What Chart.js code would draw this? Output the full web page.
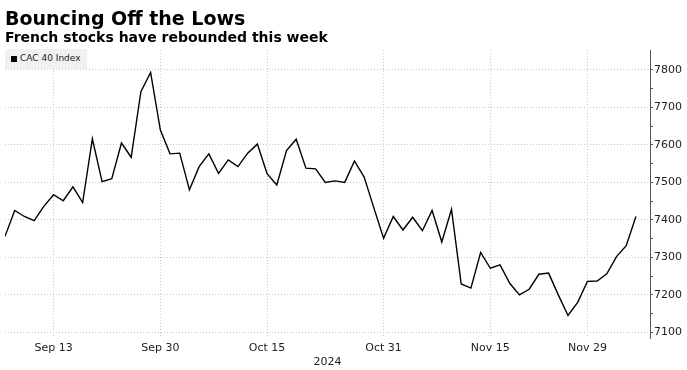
<!DOCTYPE html>
<html lang="en">
<head>
    <meta charset="UTF-8">
    <title>Bouncing Off the Lows</title>
    <script src="https://cdn.jsdelivr.net/npm/chart.js"></script>
    <style>
        body {
            margin: 0;
            background: #fff;
            font-family: "DejaVu Sans", sans-serif;
        }
        .wrap {
            position: relative;
            width: 687px;
            height: 370px;
        }
        .title {
            position: absolute;
            left: 5px;
            top: 7px;
            font-size: 19px;
            font-weight: bold;
            color: #000;
            white-space: nowrap;
        }
        .subtitle {
            position: absolute;
            left: 5px;
            top: 29px;
            font-size: 14px;
            font-weight: bold;
            color: #000;
            white-space: nowrap;
        }
        .legend {
            position: absolute;
            left: 5px;
            top: 49px;
            width: 82px;
            height: 20px;
            background: #f0f0f0;
            font-size: 9px;
            color: #222;
            z-index: 2;
        }
        .legend span.box {
            position: absolute;
            left: 6px;
            top: 7px;
            width: 6px;
            height: 6px;
            background: #000;
        }
        .legend span.txt {
            position: absolute;
            left: 15px;
            top: 4px;
            white-space: nowrap;
        }
        canvas {
            position: absolute;
            left: 0;
            top: 0;
        }
    </style>
</head>
<body>
<div class="wrap">
    <canvas id="chart" width="687" height="370"></canvas>
    <div class="title">Bouncing Off the Lows</div>
    <div class="subtitle">French stocks have rebounded this week</div>
    <div class="legend"><span class="box"></span><span class="txt">CAC 40 Index</span></div>
</div>
<script>
    // trading days, Sep 6 - Dec 6 2024
    const dates = [
        'Sep 6', 'Sep 9', 'Sep 10', 'Sep 11', 'Sep 12', 'Sep 13', 'Sep 16', 'Sep 17', 'Sep 18', 'Sep 19',
        'Sep 20', 'Sep 23', 'Sep 24', 'Sep 25', 'Sep 26', 'Sep 27', 'Sep 30',
        'Oct 1', 'Oct 2', 'Oct 3', 'Oct 4', 'Oct 7', 'Oct 8', 'Oct 9', 'Oct 10', 'Oct 11', 'Oct 14',
        'Oct 15', 'Oct 16', 'Oct 17', 'Oct 18', 'Oct 21', 'Oct 22', 'Oct 23', 'Oct 24', 'Oct 25',
        'Oct 28', 'Oct 29', 'Oct 30', 'Oct 31',
        'Nov 1', 'Nov 4', 'Nov 5', 'Nov 6', 'Nov 7', 'Nov 8', 'Nov 11', 'Nov 12', 'Nov 13', 'Nov 14',
        'Nov 15', 'Nov 18', 'Nov 19', 'Nov 20', 'Nov 21', 'Nov 22', 'Nov 25', 'Nov 26', 'Nov 27',
        'Nov 28', 'Nov 29',
        'Dec 2', 'Dec 3', 'Dec 4', 'Dec 5', 'Dec 6'
    ];

    const cac40 = [
        7356, 7425, 7409, 7398, 7436, 7467, 7451, 7488, 7446, 7616,
        7502, 7510, 7605, 7567, 7742, 7793, 7640,
        7576, 7578, 7480, 7542, 7576, 7524, 7560, 7542, 7578, 7602,
        7523, 7493, 7585, 7615, 7538, 7536, 7500, 7504, 7500,
        7557, 7514, 7432, 7351,
        7409, 7373, 7407, 7371, 7425, 7341, 7428, 7229, 7218, 7313,
        7271, 7280, 7231, 7200, 7215, 7255, 7258, 7200, 7145,
        7180, 7236,
        7237, 7256, 7302, 7331, 7409
    ];

    const xTickLabels = ['Sep 13', 'Sep 30', 'Oct 15', 'Oct 31', 'Nov 15', 'Nov 29'];
    const yTickValues = [7100, 7150, 7200, 7250, 7300, 7350, 7400, 7450, 7500, 7550, 7600, 7650, 7700, 7750, 7800];
    const yMin = 7085;
    const yMax = 7853;
    // axis runs a little past the last session
    const xMax = 66.45;

    const ctx = document.getElementById('chart').getContext('2d');
    const gridGrey = '#c8c8c8';

    const points = cac40.map((v, i) => ({ x: i, y: v }));

    const chart = new Chart(ctx, {
        type: 'line',
        data: {
            datasets: [{
                label: 'CAC 40 Index',
                data: points,
                borderColor: '#000',
                borderWidth: 1.4,
                pointRadius: 0,
                tension: 0,
                fill: false
            }]
        },
        options: {
            responsive: false,
            animation: false,
            layout: {
                padding: { left: 5, right: 4, top: 50, bottom: 1.4 }
            },
            plugins: {
                legend: { display: false },
                tooltip: { enabled: false }
            },
            scales: {
                x: {
                    type: 'linear',
                    min: 0,
                    max: xMax,
                    afterBuildTicks: function(scale) {
                        scale.ticks = xTickLabels.map(l => ({ value: dates.indexOf(l) }));
                    },
                    border: { display: false, dash: [1, 2] },
                    grid: {
                        color: gridGrey,
                        drawTicks: false
                    },
                    ticks: {
                        autoSkip: false,
                        maxRotation: 0,
                        padding: 3.4,
                        color: '#222',
                        font: { family: 'DejaVu Sans', size: 11 },
                        callback: v => dates[v]
                    },
                    title: {
                        display: true,
                        text: '2024',
                        color: '#222',
                        font: { family: 'DejaVu Sans', size: 11 },
                        padding: { top: -2.6, bottom: 0 }
                    }
                },
                y: {
                    position: 'right',
                    min: yMin,
                    max: yMax,
                    afterBuildTicks: function(scale) {
                        scale.ticks = yTickValues.map(v => ({ value: v }));
                    },
                    border: { display: true, color: '#555', width: 1, dash: [1, 2] },
                    grid: {
                        color: c => (c.tick && c.tick.value % 100 === 0) ? gridGrey : 'rgba(0,0,0,0)',
                        tickColor: '#555',
                        tickLength: 3,
                        drawTicks: true
                    },
                    ticks: {
                        padding: 1,
                        color: '#222',
                        font: { family: 'DejaVu Sans', size: 11 },
                        callback: v => (v % 100 === 0 ? String(v) : '')
                    }
                }
            }
        }
    });
</script>
</body>
</html>
